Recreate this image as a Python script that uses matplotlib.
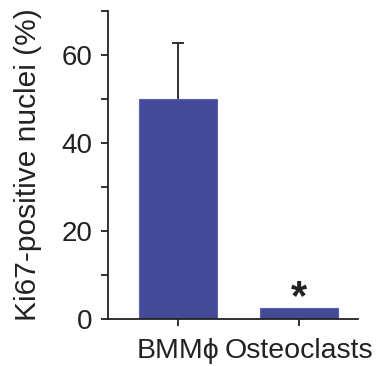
import matplotlib
matplotlib.use("Agg")
import matplotlib.pyplot as plt
from matplotlib.ticker import MultipleLocator

categories = ["BMMϕ", "Osteoclasts"]
values = [50, 2.5]
errors_upper = [12.8, 0]
significance = ["", "*"]
ylabel = "Ki67-positive nuclei (%)"

plt.rcParams['font.family'] = ['Liberation Sans', 'DejaVu Sans']

fig = plt.figure(figsize=(3.84, 3.66), dpi=100)
ax = fig.add_axes([108/384, 1-319/366, 250/384, 308/366])

x = list(range(len(categories)))
color = "#434B99"
ax.bar(x, values, width=0.64, color=color, edgecolor="#5A62AE", linewidth=0.8, zorder=2)
eb = ax.errorbar(x[0], values[0], yerr=[[0], [errors_upper[0]]], fmt="none", ecolor="#222222",
                 elinewidth=1.3, capsize=4.5, capthick=1.3, zorder=1)
caps = eb[1]
if len(caps) > 1:
    caps[0].set_visible(False)
for xi, v, s in zip(x, values, significance):
    if s:
        ax.text(xi, v + 2.3, s, ha="center", va="center", fontsize=30, fontweight="bold", color="#222222")

ax.set_xlim(-0.575, 1.483)
ax.set_ylim(0, 70)
ax.set_xticks(x)
ax.set_xticklabels(categories, fontsize=20.5, color="#222222")
ax.set_yticks([0, 20, 40, 60])
ax.yaxis.set_minor_locator(MultipleLocator(10))
ax.tick_params(axis="y", which="major", labelsize=20, length=5, width=1.3, colors="#222222", pad=6)
ax.tick_params(axis="y", which="minor", length=5, width=1.3, colors="#222222")
ax.tick_params(axis="x", length=5, width=1.3, colors="#222222", pad=9)
ax.set_ylabel(ylabel, fontsize=21.5, color="#222222", labelpad=14)

for s in ["top", "right"]:
    ax.spines[s].set_visible(False)
for s in ["left", "bottom"]:
    ax.spines[s].set_linewidth(1.3)
    ax.spines[s].set_color("#222222")

fig.savefig("out.png", dpi=100)
